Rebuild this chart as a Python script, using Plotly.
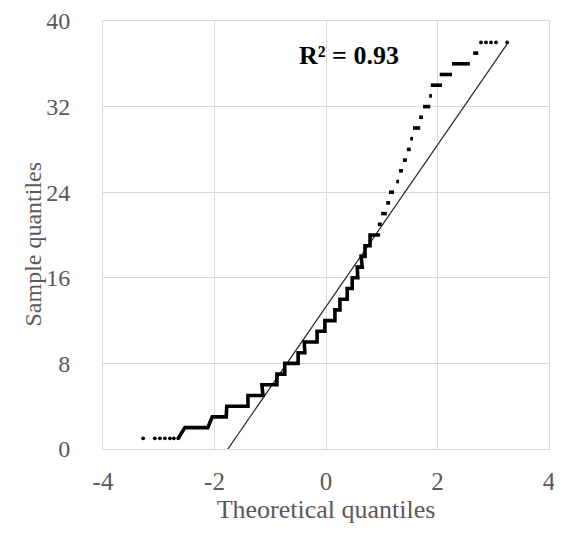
import plotly.graph_objects as go

# ---- data ----
# lower tail (sample value 1) individual points
tail_low_x = [-3.28, -3.07, -2.98, -2.89, -2.80, -2.73, -2.65]
tail_low_y = [1, 1, 1, 1, 1, 1, 1]

# steps of tied sample values: value, first and last theoretical quantile
step_vals = [2, 3, 4, 5, 6, 7, 8, 9, 10, 11, 12, 13, 14, 15, 16, 17, 18, 19, 20,
             21, 22, 23, 24, 25, 26, 27, 28, 29, 30, 31, 32, 33, 34, 35, 36, 37]
step_x0 = [-2.53, -2.04, -1.78, -1.40, -1.15, -0.88, -0.74, -0.50, -0.39, -0.16,
           -0.02, 0.16, 0.25, 0.38, 0.47, 0.56, 0.63, 0.70, 0.79,
           0.93, 0.99, 1.08, 1.13, 1.26, 1.31, 1.38, 1.45, 1.51, 1.56, 1.67,
           1.74, 1.85, 1.88, 2.04, 2.26, 2.64]
step_x1 = [-2.12, -1.79, -1.40, -1.13, -0.88, -0.74, -0.50, -0.38, -0.16, -0.02,
           0.16, 0.25, 0.38, 0.47, 0.57, 0.65, 0.70, 0.79, 0.97,
           1.00, 1.09, 1.15, 1.22, 1.31, 1.38, 1.45, 1.52, 1.56, 1.69, 1.74,
           1.87, 1.90, 2.08, 2.26, 2.58, 2.73]

# upper tail (sample value 38) individual points
tail_high_x = [2.78, 2.87, 2.96, 3.05, 3.25]
tail_high_y = [38, 38, 38, 38, 38]

# fitted reference line
fit_slope = 7.56
fit_intercept = 13.3
r2_text = "R² = 0.93"

x_title = "Theoretical quantiles"
y_title = "Sample quantiles"
x_ticks = [-4, -2, 0, 2, 4]
x_tick_labels = ["-4", "-2", "0", "2", "4"]
y_ticks = [0, 8, 16, 24, 32, 40]
y_tick_labels = ["0", "8", "16", "24", "32", "40"]

CONNECT_MAX = 20  # steps up to here are drawn as a continuous staircase

# ---- build staircase ----
sx, sy = [tail_low_x[-1]], [tail_low_y[-1]]
for v, a, b in zip(step_vals, step_x0, step_x1):
    if v <= CONNECT_MAX:
        sx += [a, b]
        sy += [v, v]
    else:
        sx += [None, a, b]
        sy += [None, v, v]

data_min = min(tail_low_x)
data_max = max(tail_high_x)

fig = go.Figure()
fig.add_trace(go.Scatter(
    x=[data_min, data_max],
    y=[fit_intercept + fit_slope * data_min, fit_intercept + fit_slope * data_max],
    mode="lines", line=dict(color="#262626", width=1.2), hoverinfo="skip",
    showlegend=False))
fig.add_trace(go.Scatter(x=sx, y=sy, mode="lines",
                         line=dict(color="black", width=3.6), showlegend=False))
fig.add_trace(go.Scatter(x=tail_low_x + tail_high_x, y=tail_low_y + tail_high_y,
                         mode="markers",
                         marker=dict(color="black", size=3.8, symbol="circle"),
                         showlegend=False))

font_family = "Liberation Serif, Times New Roman, serif"
grid = "#d9d9d9"
txt = "#595959"

# the page body adds an 8px margin, so the figure is sized to fit inside it
fig.update_layout(
    width=554, height=518,
    margin=dict(l=95, r=13, t=13, b=77, autoexpand=False),
    paper_bgcolor="white", plot_bgcolor="white",
    font=dict(family=font_family, color=txt),
    xaxis=dict(range=[-4, 4], tickvals=x_ticks, ticktext=x_tick_labels,
               showgrid=True, gridcolor=grid, automargin=False,
               gridwidth=1, zeroline=False, showline=True, linecolor=grid,
               mirror=True, ticks="", tickfont=dict(size=25, color=txt),
               ticklabelstandoff=10, ticklabeloverflow="allow",
               title=dict(text=x_title,
                          font=dict(size=26, color=txt), standoff=0)),
    yaxis=dict(range=[0, 40], tickvals=y_ticks, ticktext=y_tick_labels,
               showgrid=True, gridcolor=grid, automargin=False,
               gridwidth=1, zeroline=False, showline=True, linecolor=grid,
               mirror=True, ticks="", tickfont=dict(size=24, color=txt),
               ticklabelstandoff=27, ticklabeloverflow="allow"),
    annotations=[
        dict(x=0.41, y=36.8, xref="x", yref="y", text="<b>" + r2_text + "</b>",
             showarrow=False, xanchor="center", yanchor="middle",
             font=dict(size=26, color="black", family=font_family)),
        dict(x=-0.157, y=0.48, xref="paper", yref="paper", text=y_title,
             textangle=-90, showarrow=False, xanchor="center", yanchor="middle",
             font=dict(size=24, color=txt, family=font_family)),
    ],
)

fig.write_html("out.html")
